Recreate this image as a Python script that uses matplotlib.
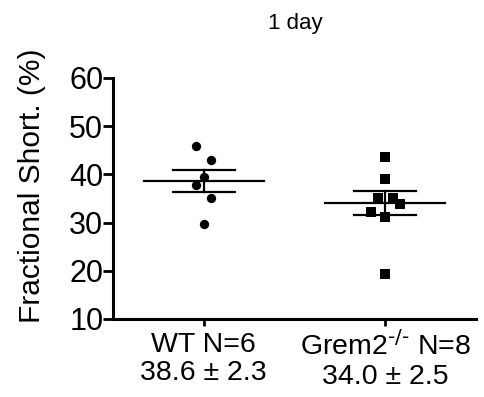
import matplotlib
matplotlib.use("Agg")
import matplotlib.pyplot as plt
import numpy as np

plt.rcParams['font.family'] = ['Liberation Sans', 'DejaVu Sans']

groups = ["WT N=6\n38.6 ± 2.3", "Grem2$^{\\text{-/-}}$ N=8\n34.0 ± 2.5"]
wt_vals = [45.8, 43.0, 39.4, 37.8, 35.2, 29.8]
wt_offsets = [-0.04, 0.04, 0.0, -0.04, 0.04, 0.0]
grem_vals = [43.7, 39.1, 35.2, 35.2, 33.9, 32.2, 31.2, 19.3]
grem_offsets = [0.0, 0.0, -0.04, 0.04, 0.08, -0.08, 0.0, 0.0]
means = [38.6, 34.0]
sems = [2.3, 2.5]
title = "1 day"
ylabel = "Fractional Short. (%)"
yticks = [10, 20, 30, 40, 50, 60]

fig = plt.figure(figsize=(4.84, 3.97), dpi=100)
ax = fig.add_axes([113/484, 1-319/397, (476-113)/484, (319-78)/397])

ax.scatter(np.array(wt_offsets) + 0, wt_vals, marker='o', s=45, color='black', zorder=3, linewidths=0)
ax.scatter(np.array(grem_offsets) + 1, grem_vals, marker='s', s=50, color='black', zorder=3, linewidths=0)

for i, (m, s) in enumerate(zip(means, sems)):
    ax.plot([i-0.33, i+0.33], [m, m], color='black', lw=1.6, zorder=4)
    ax.plot([i-0.17, i+0.17], [m+s, m+s], color='black', lw=1.6, zorder=4)
    ax.plot([i-0.17, i+0.17], [m-s, m-s], color='black', lw=1.6, zorder=4)
    ax.plot([i, i], [m-s, m+s], color='black', lw=1.6, zorder=4)

ax.set_xlim(-0.5, 1.5)
ax.set_ylim(10, 60)
ax.set_yticks(yticks)
ax.set_xticks([0, 1])
ax.set_xticklabels(groups, fontsize=20.5, linespacing=1.12)
ax.tick_params(axis='y', labelsize=22, width=2, length=7, pad=0)
ax.tick_params(axis='x', width=2, length=5, pad=4)
ax.spines['top'].set_visible(False)
ax.spines['right'].set_visible(False)
ax.spines['left'].set_linewidth(2.2)
ax.spines['bottom'].set_linewidth(2.2)
ax.set_ylabel(ylabel, fontsize=21.5, va='center')
ax.yaxis.set_label_coords((32-113)/363, (319-185.5)/241)
fig.text(295/484, 1-23/397, title, ha='center', va='center', fontsize=16)

fig.savefig("out.png", dpi=100)
